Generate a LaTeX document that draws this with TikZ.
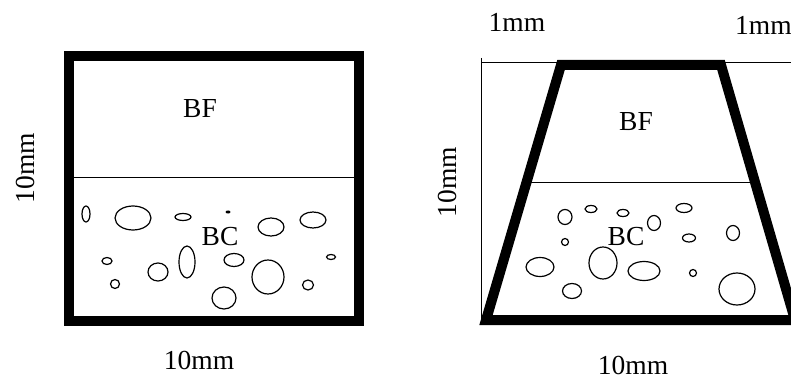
\documentclass[tikz,border=0pt]{standalone}
\usepackage{fontspec}
\setmainfont{Liberation Serif}
\usepackage{tikz}
\usetikzlibrary{positioning}

\begin{document}
\begin{tikzpicture}[x=1pt, y=-1pt,
  wall/.style={line width=10pt, line join=miter},
  thin/.style={line width=1pt},
  bubble/.style={line width=1.2pt},
  lbl/.style={inner sep=0pt, anchor=base, font=\fontsize{27.5}{30}\selectfont}]
\useasboundingbox (0,0) rectangle (791,379);

% square cell
\draw[thin] (69,178) -- (359,178);
\draw[wall] (69,56) rectangle (359,321);
\foreach \cx/\cy/\rx/\ry in {86/214/4/8, 133/218/18/12, 183/217/8/3.5, 271/227/13/9,
    313/220/13/8, 107/261/5/3.5, 115/284/4.5/4.5, 158/272/10/9, 187/262/8/16,
    234/260/10/6.5, 268/277/16/17, 224/298/12/11, 308/285/5.5/5, 331/257/4.5/2.5}
  \draw[bubble] (\cx,\cy) ellipse [x radius=\rx pt, y radius=\ry pt];
\fill (228,212) ellipse [x radius=2.5pt, y radius=1.5pt];
\node[lbl] (bf1) at (200,118) {BF};
\node[lbl] (bc1) at (220,245) {BC};
\node[lbl] (w1) at (199,369) {10mm};
\node[lbl, anchor=center, rotate=90] (h1) at (25,168) {10mm};

% tapered cell
\draw[thin] (481,58) -- (481,323);
\draw[thin] (481,63) -- (791,63);
\draw[thin] (526,183) -- (756,183);
\draw[wall] (561,65) -- (721,65) -- (795,320) -- (486,320) -- cycle;
\foreach \cx/\cy/\rx/\ry in {565/217/7/7.5, 591/209/6/3.5, 623/213/6/3.5, 654/223/6.5/7.5,
    684/208/8/4.5, 733/233/6.5/7.5, 565/242/3.5/3.5, 689/238/6.5/4, 540/267/14/9.5,
    603/263/14/16, 644/271/16/9.5, 693/273/3.5/3.5, 572/291/9.5/7.5, 737/289/18/16}
  \draw[bubble] (\cx,\cy) ellipse [x radius=\rx pt, y radius=\ry pt];
\node[lbl] (bf2) at (636,131) {BF};
\node[lbl] (bc2) at (626,245) {BC};
\node[lbl] (w2) at (633,374) {10mm};
\node[lbl, anchor=center, rotate=90] (h2) at (447,182) {10mm};
\node[lbl] (gapl) at (517,32) {1mm};
\node[lbl, anchor=base west] (gapr) at (735,35) {1mm};
\end{tikzpicture}
\end{document}
